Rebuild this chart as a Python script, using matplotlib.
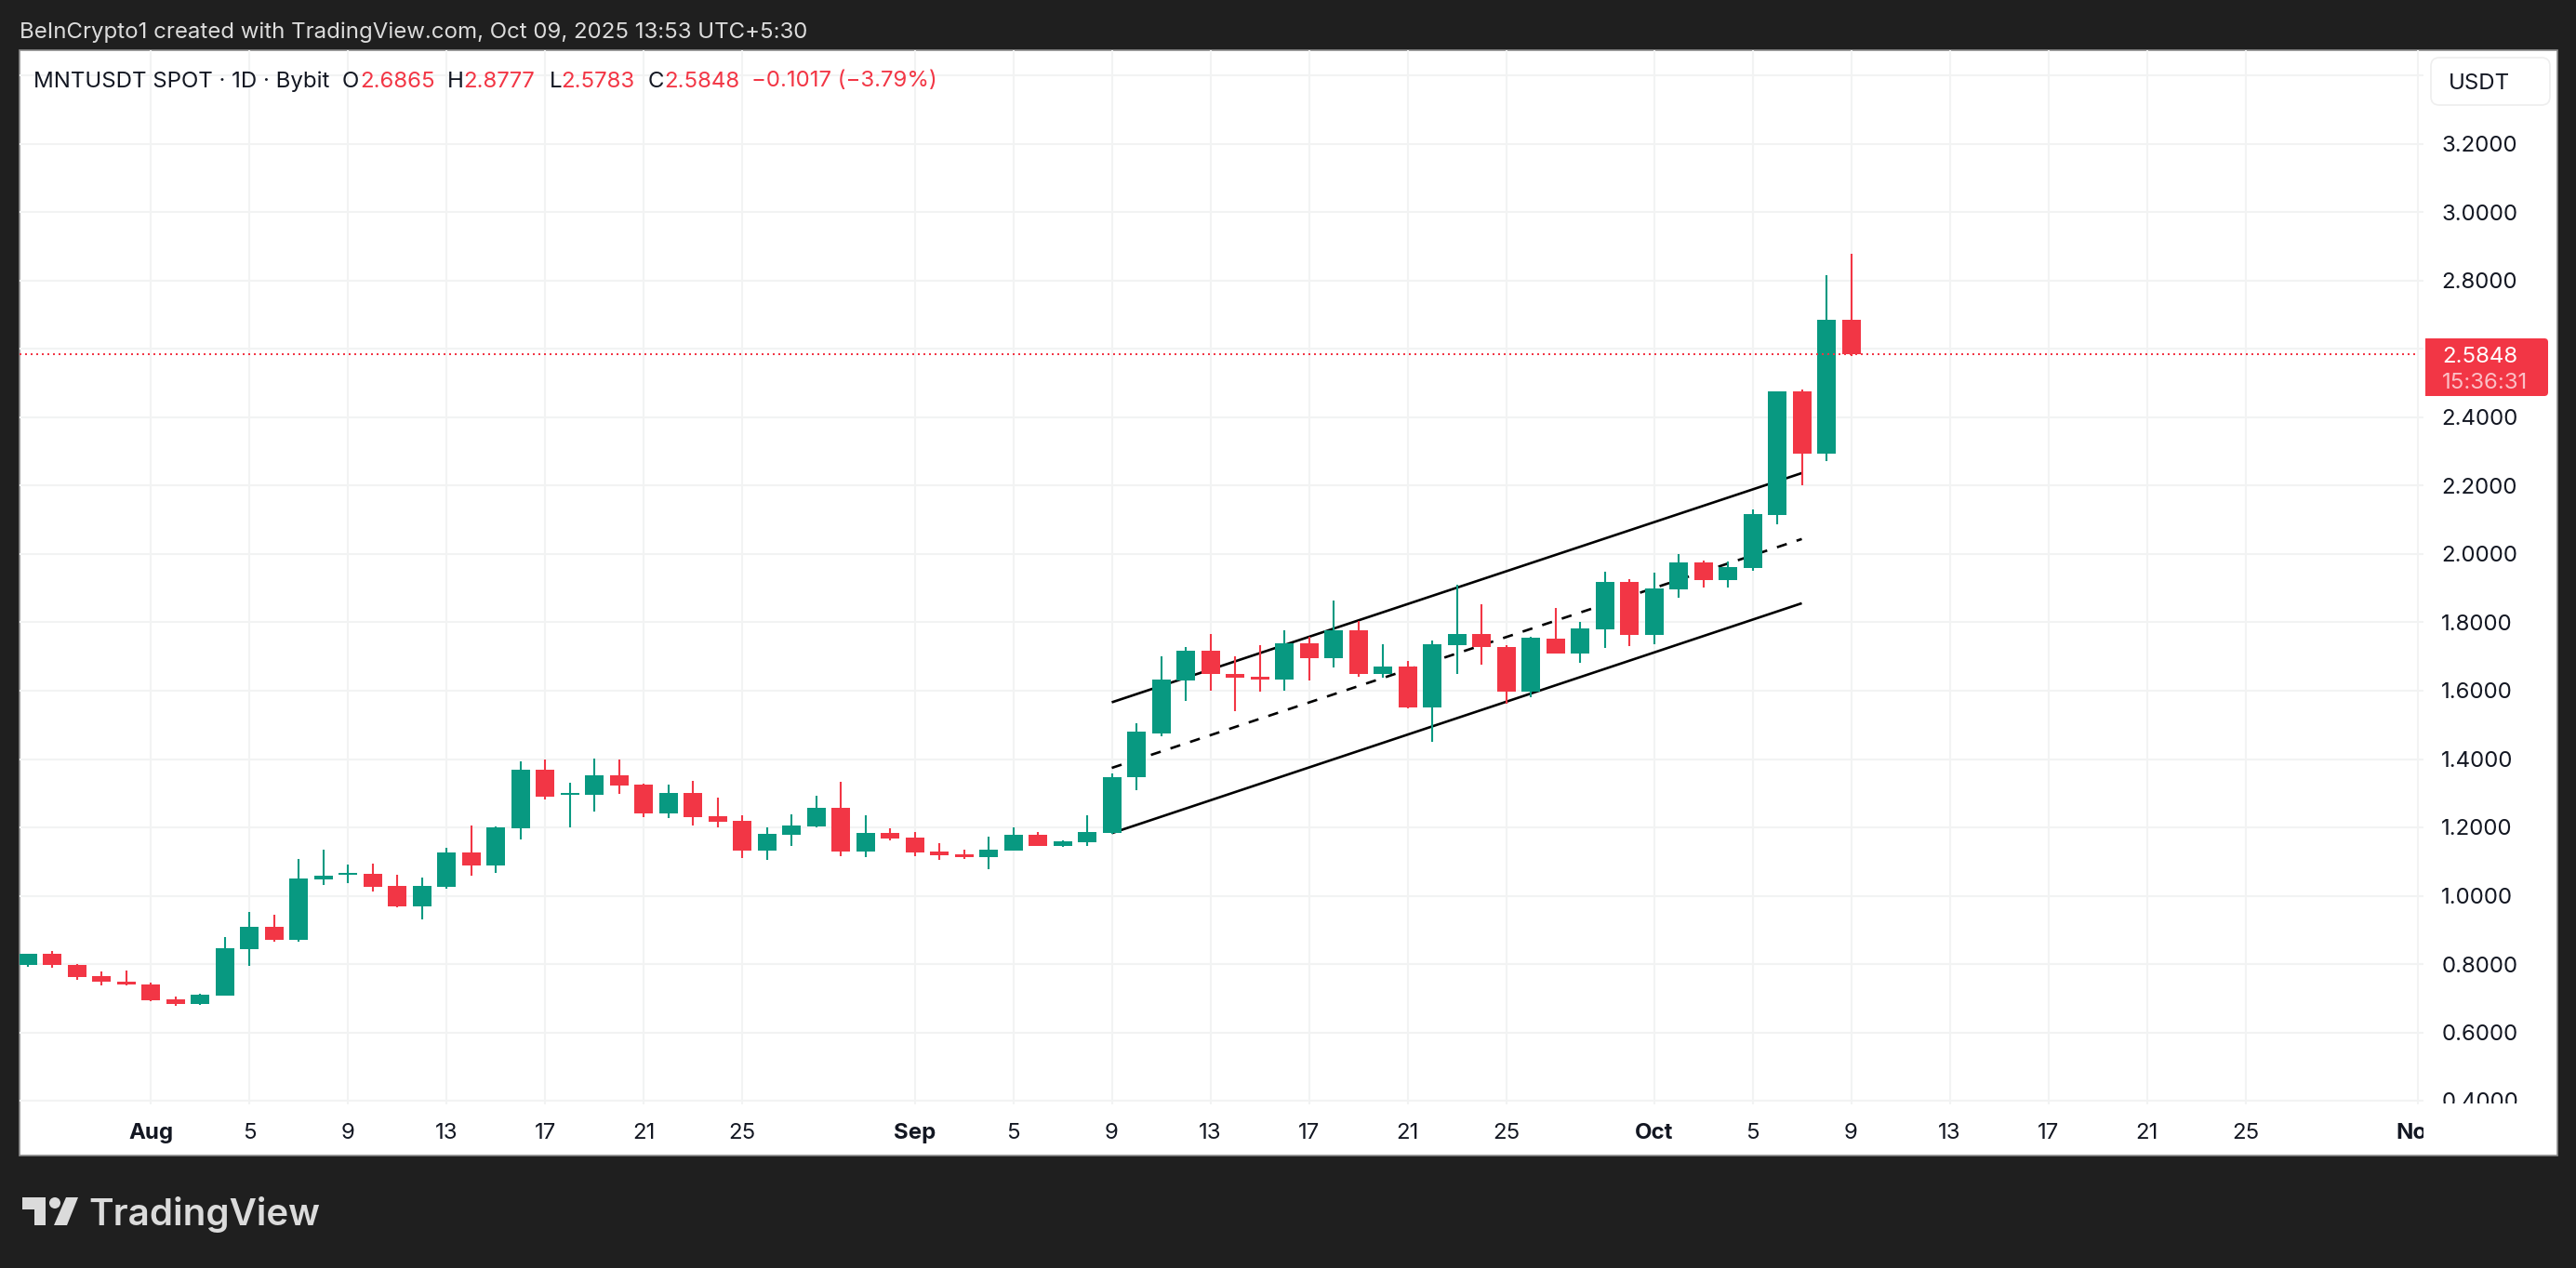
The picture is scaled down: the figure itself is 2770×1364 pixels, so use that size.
import numpy as np
import pandas as pd
import matplotlib
matplotlib.use("Agg")
import matplotlib.pyplot as plt
import matplotlib.dates as mdates
from matplotlib.patches import Rectangle, FancyBboxPatch, Polygon, Circle
from matplotlib.transforms import Bbox

plt.rcParams['font.family'] = ['Inter', 'DejaVu Sans']

# daily candles, Jul 27 to Oct 9 2025
dates = pd.date_range("2025-07-27", "2025-10-09", freq="D")
opens = [.796, .830, .798, .765, .749, .741, .697, .683, .708, .844, .909, .871, 1.048, 1.062, 1.064,
         1.029, .969, 1.026, 1.127, 1.089, 1.198, 1.369, 1.296, 1.296, 1.353, 1.326, 1.241, 1.301, 1.233,
         1.220, 1.132, 1.179, 1.203, 1.258, 1.130, 1.184, 1.171, 1.130, 1.122, 1.113, 1.132, 1.179, 1.146,
         1.157, 1.184, 1.346, 1.476, 1.631, 1.718, 1.650, 1.642, 1.634, 1.740, 1.694, 1.776, 1.648, 1.672,
         1.550, 1.732, 1.765, 1.729, 1.596, 1.752, 1.709, 1.780, 1.918, 1.763, 1.897, 1.976, 1.924, 1.959,
         2.113, 2.475, 2.293, 2.6865]
highs = [.830, .839, .800, .779, .781, .746, .705, .713, .879, .953, .945, 1.108, 1.135, 1.092, 1.094,
         1.062, 1.053, 1.141, 1.206, 1.203, 1.394, 1.399, 1.331, 1.402, 1.399, 1.328, 1.326, 1.337, 1.288,
         1.236, 1.200, 1.239, 1.293, 1.334, 1.236, 1.198, 1.187, 1.154, 1.135, 1.173, 1.200, 1.187, 1.162,
         1.236, 1.358, 1.506, 1.702, 1.729, 1.765, 1.702, 1.732, 1.778, 1.759, 1.863, 1.805, 1.735, 1.686,
         1.748, 1.911, 1.852, 1.732, 1.759, 1.842, 1.801, 1.948, 1.927, 1.946, 2.000, 1.981, 1.978, 2.131,
         2.475, 2.481, 2.815, 2.8777]
lows = [.792, .790, .754, .738, .738, .692, .678, .681, .708, .795, .866, .866, 1.032, 1.037, 1.013,
        .966, .931, 1.021, 1.059, 1.067, 1.165, 1.282, 1.200, 1.247, 1.298, 1.230, 1.228, 1.206, 1.200,
        1.111, 1.105, 1.146, 1.200, 1.116, 1.113, 1.162, 1.116, 1.105, 1.108, 1.078, 1.132, 1.146, 1.143,
        1.146, 1.181, 1.310, 1.468, 1.569, 1.599, 1.539, 1.596, 1.601, 1.631, 1.667, 1.642, 1.639, 1.547,
        1.449, 1.648, 1.675, 1.563, 1.582, 1.709, 1.682, 1.725, 1.731, 1.736, 1.872, 1.902, 1.902, 1.951,
        2.086, 2.200, 2.271, 2.5783]
closes = [.830, .796, .763, .747, .739, .695, .683, .711, .847, .909, .871, 1.051, 1.059, 1.067, 1.026,
          .969, 1.029, 1.127, 1.089, 1.200, 1.369, 1.290, 1.301, 1.353, 1.323, 1.241, 1.301, 1.230, 1.217,
          1.132, 1.181, 1.206, 1.258, 1.130, 1.184, 1.168, 1.127, 1.119, 1.113, 1.135, 1.179, 1.146, 1.160,
          1.187, 1.347, 1.479, 1.634, 1.718, 1.648, 1.639, 1.634, 1.740, 1.694, 1.776, 1.648, 1.672, 1.550,
          1.735, 1.765, 1.727, 1.596, 1.754, 1.709, 1.782, 1.918, 1.763, 1.899, 1.976, 1.924, 1.962, 2.117,
          2.475, 2.293, 2.685, 2.5848]

# drawn channel
channel_dates = ["2025-09-09", "2025-10-07"]
channel_upper = [1.566, 2.237]
channel_mid = [1.374, 2.044]
channel_lower = [1.183, 1.856]

y_ticks = [0.4, 0.6, 0.8, 1.0, 1.2, 1.4, 1.6, 1.8, 2.0, 2.2, 2.4, 2.6, 2.8, 3.0, 3.2, 3.4]
y_labels = ["0.4000", "0.6000", "0.8000", "1.0000", "1.2000", "1.4000", "1.6000", "1.8000", "2.0000",
            "2.2000", "2.4000", "", "2.8000", "3.0000", "3.2000", ""]
x_tick_dates = ["2025-08-01", "2025-08-05", "2025-08-09", "2025-08-13", "2025-08-17", "2025-08-21", "2025-08-25",
                "2025-09-01", "2025-09-05", "2025-09-09", "2025-09-13", "2025-09-17", "2025-09-21", "2025-09-25",
                "2025-10-01", "2025-10-05", "2025-10-09", "2025-10-13", "2025-10-17", "2025-10-21", "2025-10-25",
                "2025-11-01"]
x_labels = ["Aug", "5", "9", "13", "17", "21", "25", "Sep", "5", "9", "13", "17", "21", "25",
            "Oct", "5", "9", "13", "17", "21", "25", "Nov"]

GREEN = "#089981"
RED = "#f23645"
INK = "#131722"
GRID = "#f2f3f3"
FS = 17.3
W, H = 2770, 1364

fig = plt.figure(figsize=(W / 100, H / 100), dpi=100, facecolor="#1f1f1f")

# pixel layers under and over the chart
bg = fig.add_axes([0, 0, 1, 1], zorder=0)
fg = fig.add_axes([0, 0, 1, 1], zorder=2)
for a in (bg, fg):
    a.set_xlim(0, W)
    a.set_ylim(H, 0)
    a.axis("off")
    a.patch.set_alpha(0)

bg.add_patch(Rectangle((20.5, 54), 2729.5, 1189, fc="white", ec="#8c8c8c", lw=1.2))

# main chart, 26.5 px per day and 367.5 px per 1.0 of price
left, right, top, bottom = 20.5, 2606, 54, 1188
ax = fig.add_axes([left / W, 1 - bottom / H, (right - left) / W, (bottom - top) / H], zorder=1)
ax.patch.set_alpha(0)
x = mdates.date2num(dates)
x_aug1 = mdates.date2num(pd.Timestamp("2025-08-01"))
ax.set_xlim(x_aug1 + (left - 162) / 26.5, x_aug1 + (right - 162) / 26.5)
ax.set_ylim(0.4 - (bottom - 1184) / 367.5, 0.4 + (1184 - top) / 367.5)
for s in ax.spines.values():
    s.set_visible(False)

tick_x = mdates.date2num(pd.to_datetime(x_tick_dates))
ax.set_xticks(tick_x)
ax.set_xticklabels(x_labels)
ax.set_yticks(y_ticks)
ax.set_yticklabels(y_labels)
ax.yaxis.tick_right()
ax.tick_params(axis="y", length=0, pad=13.8, labelsize=FS, labelcolor=INK)
ax.tick_params(axis="x", length=0, pad=22.2, labelsize=FS, labelcolor=INK)
ax.grid(True, color=GRID, lw=1.5, zorder=0)
ax.set_axisbelow(True)

for lab in ax.get_xticklabels():
    lab.set_verticalalignment("center")
    lab.set_clip_box(Bbox([[0, 0], [right, H]]))
    lab.set_clip_on(True)
    if lab.get_text() in ("Aug", "Sep", "Oct", "Nov"):
        lab.set_fontweight("bold")
for lab in ax.get_yticklabels():
    lab.set_clip_box(Bbox([[right, H - 1187], [W, H]]))
    lab.set_clip_on(True)

# channel sits under the candles
cx = mdates.date2num(pd.to_datetime(channel_dates))
ax.plot(cx, channel_upper, color="black", lw=1.9, zorder=2, solid_capstyle="butt")
ax.plot(cx, channel_lower, color="black", lw=1.9, zorder=2, solid_capstyle="butt")
ax.plot(cx, channel_mid, color="black", lw=1.9, ls=(0, (4.2, 4.2)), zorder=2)

o = np.array(opens)
c = np.array(closes)
colors = [GREEN if b >= a else RED for a, b in zip(o, c)]
ax.vlines(x, lows, highs, colors=colors, lw=1.5, zorder=3)
ax.bar(x, np.abs(c - o), bottom=np.minimum(o, c), width=20 / 26.5, color=colors, lw=0, zorder=4)

# last price line
ax.hlines(closes[-1], ax.get_xlim()[0], tick_x[-1], color=RED, lw=1.44, ls=(0, (1, 2)), zorder=5)

# header
fg.text(21, 32, "BeInCrypto1 created with TradingView.com, Oct 09, 2025 13:53 UTC+5:30",
        color="#dcdcdc", fontsize=FS, va="center_baseline")
fg.text(36, 85, "MNTUSDT SPOT · 1D · Bybit", color=INK, fontsize=FS, va="center_baseline")
legend_parts = [(368, "O", INK), (387, "2.6865", RED), (481, "H", INK), (498, "2.8777", RED),
                (591, "L", INK), (603, "2.5783", RED), (697, "C", INK), (714, "2.5848", RED),
                (808, "−0.1017 (−3.79%)", RED)]
for px, txt, col in legend_parts:
    fg.text(px, 85, txt, color=col, fontsize=FS, va="center_baseline")

# price scale extras
fg.add_patch(FancyBboxPatch((2614, 62), 128, 51, boxstyle="round,pad=0,rounding_size=9",
                            fc="white", ec="#eeeeee", lw=1.2))
fg.text(2633, 88, "USDT", color=INK, fontsize=FS, va="center_baseline")

fg.add_patch(FancyBboxPatch((2608, 364), 132, 62, boxstyle="round,pad=0,rounding_size=4", fc=RED, ec="none"))
fg.add_patch(Rectangle((2608, 364), 8, 62, fc=RED, ec="none"))
fg.text(2626, 381, "2.5848", color="white", fontsize=FS, va="center_baseline")
fg.text(2626, 409, "15:36:31", color="#fbc0c6", fontsize=FS, va="center_baseline")

# logo
logo = "#dbdbdb"
fg.add_patch(Polygon([(24, 1288), (49, 1288), (49, 1318), (37, 1318), (37, 1301), (24, 1301)], fc=logo, ec="none"))
fg.add_patch(Circle((59, 1294), 6, fc=logo, ec="none"))
fg.add_patch(Polygon([(71, 1288), (84, 1288), (72, 1318), (58, 1318)], fc=logo, ec="none"))
fg.text(95, 1318, "TradingView", color=logo, fontsize=29, fontweight="semibold", va="baseline")

fig.savefig("out.png", dpi=100)
